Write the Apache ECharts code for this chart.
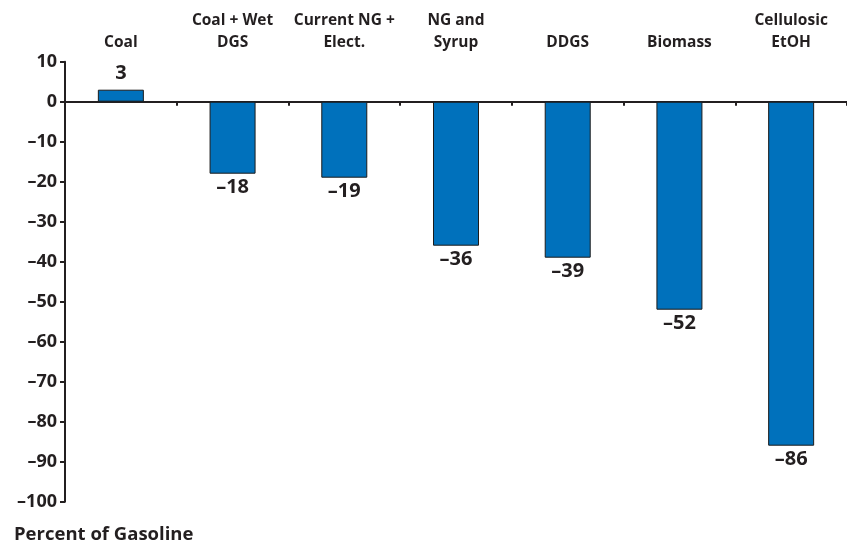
<!DOCTYPE html>
<html><head><meta charset="utf-8">
<script src="https://cdn.jsdelivr.net/npm/echarts@6/dist/echarts.min.js"></script>
<style>html,body{margin:0;padding:0;background:#fff}#c{width:847px;height:546px}</style>
</head><body><div id="c"></div>
<script>
const categories = ['Coal', 'Coal + Wet\nDGS', 'Current NG +\nElect.', 'NG and\nSyrup', 'DDGS', 'Biomass', 'Cellulosic\nEtOH'];
const values = [3, -18, -19, -36, -39, -52, -86];
const yTicks = { min: -100, max: 10, interval: 10 };
const yTitle = 'Percent of Gasoline';

const FONT = 'Open Sans';
const dash = v => String(v).replace('-', '\u2013');
const chart = echarts.init(document.getElementById('c'));
chart.setOption({
  animation: false,
  textStyle: { fontFamily: FONT },
  grid: { left: 65, top: 61.7, width: 791, height: 440 },
  title: { text: yTitle, left: 9, top: 520, textStyle: { fontFamily: FONT, fontSize: 18.5, fontWeight: 'bold', color: '#231f20' } },
  xAxis: [
    { type: 'category', data: categories, position: 'bottom',
      axisLine: { onZero: true, lineStyle: { color: '#231f20', width: 2 } },
      axisTick: { show: true, length: 4, lineStyle: { color: '#231f20', width: 2 } },
      axisLabel: { show: false } },
    { type: 'category', data: categories, position: 'top',
      axisLine: { show: false }, axisTick: { show: false },
      axisLabel: { interval: 0, margin: 8, fontSize: 15.5, fontWeight: 'bold', color: '#231f20', lineHeight: 22, fontFamily: FONT } }
  ],
  yAxis: { type: 'value', min: yTicks.min, max: yTicks.max, interval: yTicks.interval,
    splitLine: { show: false },
    axisLine: { show: true, lineStyle: { color: '#231f20', width: 2 } },
    axisTick: { show: true, length: 5, lineStyle: { color: '#231f20', width: 2 } },
    axisLabel: { formatter: dash, fontSize: 18, fontWeight: 'bold', color: '#231f20', margin: 8, fontFamily: FONT } },
  series: [{
    type: 'bar', xAxisIndex: 0, barWidth: 46,
    itemStyle: { color: '#0071bc', borderColor: '#1b1b1b', borderWidth: 1 },
    data: values.map(v => ({ value: v, label: { position: v >= 0 ? 'top' : 'bottom', distance: v >= 0 ? 6 : 4 } })),
    label: { show: true, formatter: p => dash(p.value), fontSize: 20, fontWeight: 'bold', color: '#231f20', fontFamily: FONT }
  }]
});
</script></body></html>
